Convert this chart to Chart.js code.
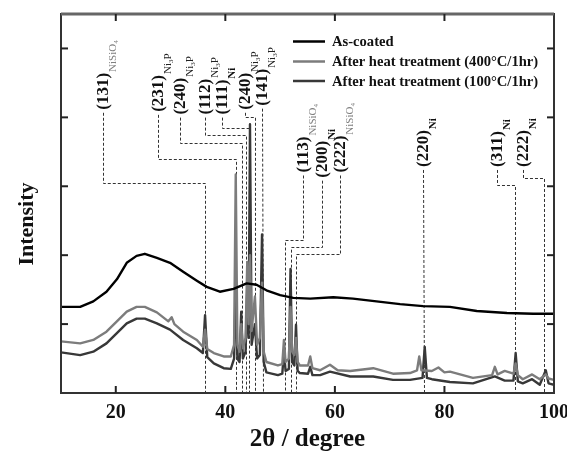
<!DOCTYPE html>
<html><head><meta charset="utf-8">
<script src="https://cdn.jsdelivr.net/npm/chart.js@4.4.1/dist/chart.umd.min.js"></script>
<style>html,body{margin:0;padding:0;background:#fff}#wrap{width:567px;height:455px;position:relative}</style>
</head><body><div id="wrap"><canvas id="c" width="567" height="455"></canvas></div>
<script>
// ---------- data ----------
const seriesNames = ['As-coated', 'After heat treatment (400°C/1hr)', 'After heat treatment (100°C/1hr)'];
const yAxisTitle = 'Intensity';
const xAxisTitle = '2θ / degree';

const asCoatedX = [10,13.5,15.9,18.3,20.2,22,23.8,25.3,27.5,29.9,32.3,34.8,36.6,39,41.5,43.9,45.7,47.5,50,52.4,55.5,59.7,63.3,67.6,71.9,76.1,81,85.9,91.4,96.2,100];
const asCoatedY = [1.25,1.25,1.33,1.47,1.65,1.89,1.99,2.02,1.96,1.89,1.76,1.63,1.54,1.47,1.51,1.59,1.57,1.49,1.42,1.38,1.37,1.39,1.37,1.33,1.29,1.26,1.25,1.19,1.16,1.15,1.15];

const heat400X = [10,13.5,15.9,18.3,20.2,22,23.8,25.3,27.5,29.6,30.2,30.7,32.3,34.8,35.9,36.3,36.7,37.9,39.7,41.0,41.6,41.9,42.2,42.6,42.9,43.2,43.7,44.0,44.25,44.5,44.8,45.4,45.8,46.3,46.7,47.0,47.5,49.6,50.4,50.7,51.0,51.6,51.9,52.2,52.6,52.9,53.2,53.6,55.1,55.5,55.9,57.3,59.1,60.5,62.8,67.0,70.6,73.7,75.0,75.4,75.8,77.7,78.9,80,81,85.2,88.7,89.2,89.7,91,92.6,93,93.4,94.3,96,97.4,98.5,99,100];
const heat400Y = [0.75,0.72,0.77,0.89,1.04,1.18,1.25,1.25,1.17,1.04,1.10,1.00,0.89,0.77,0.67,0.92,0.64,0.58,0.53,0.53,0.70,3.17,0.70,0.60,1.00,0.65,0.80,1.90,1.00,2.00,0.90,1.40,0.70,0.80,1.60,0.60,0.45,0.40,0.42,0.77,0.45,0.50,1.25,0.60,0.55,0.80,0.45,0.40,0.40,0.53,0.36,0.33,0.41,0.33,0.32,0.36,0.28,0.29,0.33,0.53,0.33,0.32,0.37,0.30,0.31,0.22,0.26,0.38,0.27,0.32,0.28,0.43,0.26,0.20,0.27,0.20,0.27,0.21,0.19];

const heat100X = [10,13.5,15.9,18.3,20.2,22,23.8,25.3,27.5,29.9,32.3,34.8,35.9,36.3,36.7,37.9,39.7,41.0,41.6,41.9,42.2,42.6,42.9,43.2,43.7,44.0,44.25,44.5,44.8,45.4,45.8,46.3,46.7,47.0,47.5,49.6,50.4,50.7,51.0,51.6,51.9,52.2,52.6,52.9,53.2,53.6,55.1,55.5,55.9,57.3,59.1,62.8,67,70.6,73.7,76.0,76.4,76.8,77.7,81,85.2,89.2,91,92.6,93,93.4,94.3,96,97.4,98.5,99,100];
const heat100Y = [0.59,0.55,0.60,0.72,0.87,1.01,1.08,1.08,1.01,0.92,0.77,0.65,0.58,1.13,0.52,0.43,0.36,0.35,0.50,1.60,0.50,0.45,1.18,0.50,0.60,1.50,0.80,3.90,0.70,1.00,0.50,0.55,2.30,0.45,0.30,0.26,0.28,0.60,0.32,0.35,1.80,0.45,0.40,0.99,0.32,0.29,0.28,0.38,0.26,0.26,0.31,0.24,0.24,0.19,0.19,0.22,0.67,0.22,0.20,0.16,0.14,0.24,0.18,0.18,0.58,0.17,0.14,0.20,0.12,0.33,0.14,0.12];

const xTickValues = [20,40,60,80,100];
const yTickValues = [1,2,3,4,5];

// peak annotations
const peakMain = ['(131)','(231)','(240)','(112)','(111)','(240)','(141)','(113)','(200)','(222)','(220)','(311)','(222)'];
const peakPhase = ['NiSiO4','Ni3P','Ni3P','Ni3P','Ni','Ni3P','Ni3P','NiSiO4','Ni','NiSiO4','Ni','Ni','Ni'];
const peakAngle = [36.3,42.0,43.0,43.75,44.4,45.5,46.9,50.9,51.9,52.9,76.2,92.9,98.2];
// label placement (2θ of label, intensity at label foot, intensity of elbow)
const labelAngle = [17.6,27.76,31.8,36.3,39.45,43.64,46.75,54.23,57.7,60.93,76.14,89.65,94.4];
const labelFoot = [4.11,4.08,4.04,4.04,4.04,4.11,4.17,3.2,3.125,3.2,3.28,3.28,3.28];
const labelElbow = [3.05,3.39,3.63,3.75,3.85,4.01,4.01,2.22,2.12,2.02,2.0,3.02,3.125];

// ---------- build ----------
const zip = (xs, ys) => xs.map((x, i) => ({x, y: ys[i]}));
const colors = ['#000000', '#7c7c7c', '#383838'];
const SERIF = '"Liberation Serif", "Times New Roman", serif';

const deco = {
  id: 'deco',
  beforeDatasetsDraw(chart) {
    const ctx = chart.ctx, xs = chart.scales.x, ys = chart.scales.y, a = chart.chartArea;
    ctx.save();
    ctx.setLineDash([3, 2]);
    ctx.lineWidth = 1;
    ctx.strokeStyle = '#333';
    for (let i = 0; i < peakAngle.length; i++) {
      const px = Math.round(xs.getPixelForValue(peakAngle[i])) + 0.5;
      const tx = Math.round(xs.getPixelForValue(labelAngle[i])) + 0.5;
      const y0 = ys.getPixelForValue(labelFoot[i]) + 3;
      const ye = Math.round(ys.getPixelForValue(labelElbow[i])) + 0.5;
      ctx.beginPath();
      ctx.moveTo(tx, y0);
      if (Math.abs(tx - px) > 1) { ctx.lineTo(tx, ye); ctx.lineTo(px, ye); }
      ctx.lineTo(px, a.bottom);
      ctx.stroke();
    }
    ctx.restore();
  },
  afterDraw(chart) {
    const ctx = chart.ctx, xs = chart.scales.x, ys = chart.scales.y, a = chart.chartArea;
    ctx.save();
    // frame
    ctx.strokeStyle = '#333';
    ctx.lineWidth = 2;
    ctx.strokeRect(a.left, a.top, a.right - a.left, a.bottom - a.top);
    ctx.strokeStyle = '#666';
    ctx.lineWidth = 3;
    ctx.beginPath(); ctx.moveTo(a.left, a.top); ctx.lineTo(a.right, a.top); ctx.stroke();
    // inward ticks
    ctx.strokeStyle = '#222';
    ctx.lineWidth = 2;
    const L = 7;
    xTickValues.forEach(v => {
      const p = xs.getPixelForValue(v);
      if (p >= a.right - 1) return;
      ctx.beginPath(); ctx.moveTo(p, a.bottom); ctx.lineTo(p, a.bottom - L); ctx.stroke();
      ctx.beginPath(); ctx.moveTo(p, a.top); ctx.lineTo(p, a.top + L); ctx.stroke();
    });
    yTickValues.forEach(v => {
      const p = ys.getPixelForValue(v);
      ctx.beginPath(); ctx.moveTo(a.left, p); ctx.lineTo(a.left + L, p); ctx.stroke();
      ctx.beginPath(); ctx.moveTo(a.right, p); ctx.lineTo(a.right - L, p); ctx.stroke();
    });
    // y axis title
    ctx.save();
    ctx.translate(27, 224);
    ctx.rotate(-Math.PI / 2);
    ctx.font = 'bold 22px ' + SERIF;
    ctx.fillStyle = '#111';
    ctx.textAlign = 'center';
    ctx.textBaseline = 'middle';
    ctx.fillText(yAxisTitle, 0, 0);
    ctx.restore();
    // legend
    const lx0 = 293, lx1 = 325, tx = 332, rows = [41.5, 61.5, 81];
    seriesNames.forEach((n, i) => {
      ctx.strokeStyle = colors[i];
      ctx.lineWidth = 2.5;
      ctx.beginPath(); ctx.moveTo(lx0, rows[i]); ctx.lineTo(lx1, rows[i]); ctx.stroke();
      ctx.fillStyle = '#111';
      ctx.font = 'bold 14.6px ' + SERIF;
      ctx.textBaseline = 'middle';
      ctx.textAlign = 'left';
      ctx.fillText(n, tx, rows[i] + 1);
    });
    // peak labels
    for (let i = 0; i < peakMain.length; i++) {
      const x = xs.getPixelForValue(labelAngle[i]);
      const y = ys.getPixelForValue(labelFoot[i]);
      ctx.save();
      ctx.translate(x, y);
      ctx.rotate(-Math.PI / 2);
      ctx.textAlign = 'left';
      ctx.textBaseline = 'alphabetic';
      ctx.font = 'bold 17px ' + SERIF;
      ctx.fillStyle = '#111';
      ctx.fillText(peakMain[i], 0, 5);
      let w = ctx.measureText(peakMain[i]).width + 1;
      const ph = peakPhase[i];
      let parts;
      if (ph === 'NiSiO4') parts = [['NiSiO', 'normal 11px', '#808080', 13], ['4', 'normal 7px', '#808080', 15]];
      else if (ph === 'Ni3P') parts = [['Ni', 'normal 11px', '#222', 13], ['3', 'normal 7px', '#222', 15], ['P', 'normal 11px', '#222', 13]];
      else parts = [['Ni', 'bold 11px', '#111', 13]];
      parts.forEach(p => {
        ctx.font = p[1] + ' ' + SERIF;
        ctx.fillStyle = p[2];
        ctx.fillText(p[0], w, p[3]);
        w += ctx.measureText(p[0]).width;
      });
      ctx.restore();
    }
    ctx.restore();
  }
};

new Chart(document.getElementById('c'), {
  type: 'line',
  data: {
    datasets: [
      {label: seriesNames[0], data: zip(asCoatedX, asCoatedY), borderColor: colors[0]},
      {label: seriesNames[1], data: zip(heat400X, heat400Y), borderColor: colors[1]},
      {label: seriesNames[2], data: zip(heat100X, heat100Y), borderColor: colors[2]}
    ]
  },
  options: {
    responsive: false,
    devicePixelRatio: 1,
    animation: false,
    events: [],
    datasets: {line: {pointRadius: 0, borderWidth: 2.4, tension: 0, borderJoinStyle: 'round', fill: false}},
    layout: {padding: {top: 14, right: 13, left: 0, bottom: 0}},
    plugins: {legend: {display: false}, tooltip: {enabled: false}},
    scales: {
      x: {
        type: 'linear', min: 10, max: 100,
        grid: {display: false, drawTicks: false},
        border: {display: false},
        afterBuildTicks: s => { s.ticks = xTickValues.map(v => ({value: v})); },
        afterFit: s => { s.height = 62; s.paddingLeft = 0; s.paddingRight = 0; },
        ticks: {padding: 8, color: '#111', font: {family: SERIF, size: 20, weight: 'bold'}},
        title: {display: true, text: xAxisTitle, color: '#111', padding: {top: 0, bottom: 0}, font: {family: SERIF, size: 25, weight: 'bold'}}
      },
      y: {
        type: 'linear', min: 0, max: 5.5,
        grid: {display: false, drawTicks: false},
        border: {display: false},
        afterBuildTicks: s => { s.ticks = yTickValues.map(v => ({value: v})); },
        afterFit: s => { s.width = 61; s.paddingTop = 0; s.paddingBottom = 0; },
        ticks: {display: false},
        title: {display: false}
      }
    }
  },
  plugins: [deco]
});
</script>
</body></html>
